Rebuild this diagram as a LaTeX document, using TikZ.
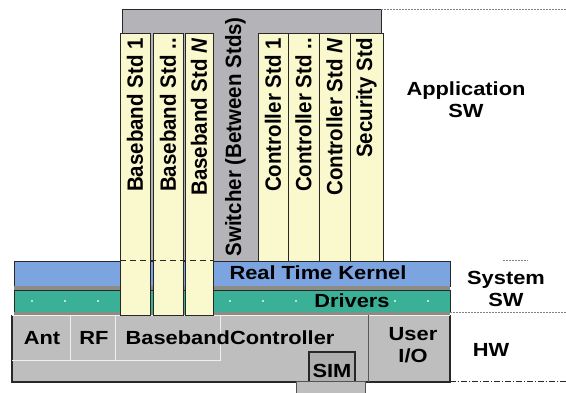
\documentclass[tikz,border=0pt]{standalone}
\usepackage{fontspec}
\setmainfont{Liberation Sans}
\usepackage{graphicx}
\definecolor{appgray}{RGB}{180,180,184}
\definecolor{colyellow}{RGB}{250,248,205}
\definecolor{kernelblue}{RGB}{124,164,224}
\definecolor{driverteal}{RGB}{58,176,150}
\definecolor{hwgray}{RGB}{190,190,190}
\definecolor{edge}{RGB}{40,40,40}
\definecolor{strip}{RGB}{140,140,132}
\newcommand{\hstretch}[1]{\scalebox{1.15}[1]{#1}}
\newcommand{\vstretch}[1]{\scalebox{1}[1.08]{#1}}

\tikzset{lbl/.style={font=\fontsize{19}{22}\selectfont\bfseries, inner sep=0pt},
         collbl/.style={font=\fontsize{20.5}{22}\selectfont\bfseries, rotate=90, anchor=east, inner sep=0pt}}

\begin{document}
\begin{tikzpicture}[x=1pt, y=-1pt]
        \useasboundingbox (0,0) rectangle (566,393);
        % application layer
        \fill[appgray] (122,10) rectangle (381,262);
        \draw[edge, line width = 1pt] (122,262) -- (122,10) -- (381,10) -- (381,33);
        \foreach \xa/\xb in {258/288,288/319,319/350,350/383}
        \draw[fill=colyellow, draw=edge, line width = .9pt] (\xa,33) rectangle (\xb,262);
        % system layer
        \draw[fill=kernelblue, draw=edge, line width = .9pt] (14,261) rectangle (450,286);
        \fill[strip] (14,286) rectangle (450,290);
        \draw[fill=driverteal, draw=edge, line width = .9pt] (14,290) rectangle (450,312);
        \fill[strip] (14,312) rectangle (450,315);
        \foreach \px in {32,65,...,428}
        \fill[driverteal!35!white] (\px-1.2,299.8) rectangle (\px+1.2,302.2);
        % hardware
        \fill[hwgray] (12,315) rectangle (450,382);
        \draw[edge, line width = 1.2pt] (12,315) -- (12,382) -- (450,382) -- (450,315);
        \draw[white!80!hwgray, line width = .8pt] (12,315) -- (450,315);
        \draw[white!75!hwgray, line width = .8pt] (12,360) -- (220,360) -- (220,315);
        \draw[white!75!hwgray, line width = .8pt] (70,315) -- (70,360);
        \draw[white!75!hwgray, line width = .8pt] (115,315) -- (115,360);
        \draw[gray!70!black, line width = .8pt] (368,315) -- (368,382);
        \fill[hwgray!92!black] (309,352) rectangle (355,382);
        \draw[edge, line width = 1.2pt] (309,382) -- (309,352) -- (355,352) -- (355,382);
        \draw[fill=hwgray, draw=edge!80, line width = 1pt] (296,382) rectangle (365,394);
        % baseband columns go through the system layer
        \foreach \xa/\xb in {120/150,153/183,185/213}
        \draw[fill=colyellow, draw=edge, line width = .9pt] (\xa,33) rectangle (\xb,315);
        \draw[edge, line width = 1pt, dash pattern=on 6pt off 4pt] (120,261) -- (213,261);
        % layer guides
        \draw[gray, line width = 1pt, dash pattern=on 2pt off 1pt] (381,10) -- (566,10);
        \draw[gray, line width = 1pt, dash pattern=on 2pt off 1pt] (503,261) -- (528,261);
        \draw[gray, line width = 1pt, dash pattern=on 2pt off 1pt] (450,313) -- (566,313);
        \draw[edge, line width = 1pt, dash pattern=on 6pt off 2pt on 1pt off 2pt] (450,382) -- (566,382);
        % column labels
        \foreach \cx/\cname/\ctext in {135/bbone/{Baseband Std 1}, 168/bbtwo/{Baseband Std ..},
                199/bbn/{Baseband Std \textit{N}}, 273/ctlone/{Controller Std 1},
                303.5/ctltwo/{Controller Std ..}, 334.5/ctln/{Controller Std \textit{N}},
                366.5/sec/{Security Std}}
        \node[collbl] (\cname) at (\cx,38) {\vstretch{\ctext}};
        \node[collbl] (switcher) at (235.5,17) {\vstretch{Switcher (Between Stds)}};
        % bar and box labels
        \node[lbl] (kernel) at (318,273) {\hstretch{Real Time Kernel}};
        \node[lbl] (drivers) at (352,301) {\hstretch{Drivers}};
        \node[lbl] (ant) at (42,338) {\hstretch{Ant}};
        \node[lbl] (rf) at (94,338) {\hstretch{RF}};
        \node[lbl] (bbctl) at (230,338) {\hstretch{BasebandController}};
        \node[lbl] (userio) at (413,347) {\hstretch{\begin{tabular}{@{}c@{}}User\\I/O\end{tabular}}};
        \node[lbl] (sim) at (332,371) {\hstretch{SIM}};
        % layer names
        \node[lbl] (appsw) at (466,102) {\hstretch{\begin{tabular}{@{}c@{}}Application\\SW\end{tabular}}};
        \node[lbl] (syssw) at (506,291) {\hstretch{\begin{tabular}{@{}c@{}}System\\SW\end{tabular}}};
        \node[lbl] (hw) at (491,350) {\hstretch{HW}};
\end{tikzpicture}
\end{document}
